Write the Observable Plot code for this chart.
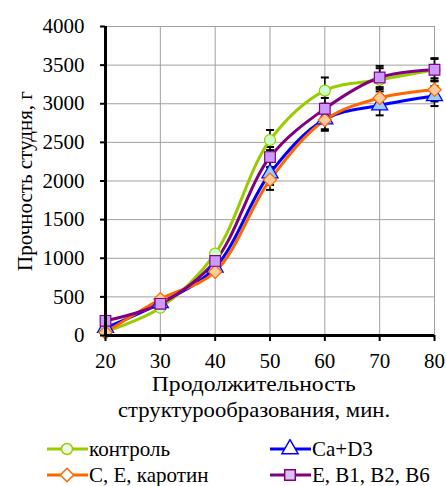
<!DOCTYPE html>
<html><head><meta charset="utf-8">
<script src="https://cdn.jsdelivr.net/npm/d3@7"></script>
<script src="https://cdn.jsdelivr.net/npm/@observablehq/plot@0.6"></script>
<style>
body{margin:0;background:#fff;font-family:"Liberation Serif",serif;}
#wrap{position:relative;width:446px;height:486px;overflow:hidden;}
#wrap > svg{position:absolute;left:0;top:0;}
.xl{position:absolute;left:0;width:508px;text-align:center;font-size:21px;line-height:19px;color:#000;white-space:nowrap;}
.xl span{display:inline-block;transform-origin:center;}
.lg{position:absolute;font-size:21px;line-height:20px;display:flex;align-items:center;color:#000;white-space:nowrap;}
.lg svg{margin-right:1px;}
</style>
</head><body>
<div id="wrap"></div>
<script>
const minutes = [20, 30, 40, 50, 60, 70, 80];
const seriesNames = ["контроль", "Ca+D3", "С, Е, каротин", "Е, В1, В2, В6"];
const control   = [50, 360, 1060, 2530, 3170, 3310, 3440];
const caD3      = [100, 420, 880, 2100, 2800, 2980, 3100];
const carotene  = [40, 470, 825, 2015, 2790, 3075, 3180];
const vitB      = [190, 410, 965, 2310, 2935, 3340, 3440];
const errControl  = [40, 40, 60, 130, 170, 150, 150];
const errCaD3     = [40, 40, 60, 150, 130, 130, 130];
const errCarotene = [40, 40, 60, 130, 140, 140, 150];
const errVitB     = [40, 40, 60, 130, 140, 150, 140];
const yTicks = [0, 500, 1000, 1500, 2000, 2500, 3000, 3500, 4000];

const FONT = '"Liberation Serif", serif';
const styles = [
  {stroke: "#99cc00", fill: "#ccffcc", symbol: "circle", r: 5.5},
  {stroke: "#0000ff", fill: "#99ccff", symbol: "triangle", r: 6},
  {stroke: "#ff6600", fill: "#ffcc99", symbol: "diamond2", r: 6},
  {stroke: "#800080", fill: "#cc99ff", symbol: "square", r: 6}
];
const values = [control, caD3, carotene, vitB];
const errs = [errControl, errCaD3, errCarotene, errVitB];

const tables = values.map((vals, s) => minutes.map((m, i) => ({x: m, y: vals[i], lo: vals[i] - errs[s][i], hi: vals[i] + errs[s][i], s})));
const all = tables.flat();
const withErr = all.filter(d => d.x >= 50);

const capSymbol = {draw(ctx, size) { const r = Math.sqrt(size / Math.PI); ctx.moveTo(-r, 0); ctx.lineTo(r, 0); }};

const marks = [
  Plot.gridX(minutes, {stroke: "#a0a0a0", strokeOpacity: 1, strokeWidth: 1}),
  Plot.gridY(yTicks, {stroke: "#a0a0a0", strokeOpacity: 1, strokeWidth: 1}),
  Plot.ruleX(withErr, {x: "x", y1: "lo", y2: "hi", stroke: "#000", strokeWidth: 1.5}),
  Plot.dot(withErr, {x: "x", y: "lo", symbol: capSymbol, r: 4, stroke: "#000", strokeWidth: 2, fill: "none"}),
  Plot.dot(withErr, {x: "x", y: "hi", symbol: capSymbol, r: 4, stroke: "#000", strokeWidth: 2, fill: "none"}),
];
tables.forEach((t, s) => {
  marks.push(Plot.line(t, {x: "x", y: "y", curve: "catmull-rom", stroke: styles[s].stroke, strokeWidth: 3}));
});
tables.forEach((t, s) => {
  marks.push(Plot.dot(t, {x: "x", y: "y", symbol: styles[s].symbol, r: styles[s].r, stroke: styles[s].stroke, fill: styles[s].fill, strokeWidth: 1.2}));
});
marks.push(
  Plot.ruleX([20], {stroke: "#000", strokeWidth: 3}),
  Plot.ruleY([0], {stroke: "#000", strokeWidth: 3}),
  Plot.axisY(yTicks, {tickSize: 5, tickPadding: 16, strokeWidth: 2, fontSize: 21, tickFormat: d3.format("d"), label: "Прочность студня, г", labelAnchor: "center", labelArrow: "none", labelOffset: 88}),
  Plot.axisX(minutes, {tickSize: 6, tickPadding: 12, strokeWidth: 2, fontSize: 21, tickFormat: d3.format("d"), label: null})
);

const chart = Plot.plot({
  width: 446, height: 374,
  marginLeft: 105, marginRight: 12, marginTop: 26, marginBottom: 39,
  style: {fontFamily: FONT, fontSize: "21px", color: "#000", background: "transparent"},
  x: {domain: [20, 80]},
  y: {domain: [0, 4000]},
  marks
});
const wrap = document.getElementById("wrap");
wrap.appendChild(chart);

function addTitle(text, top, targetWidth) {
  const d = document.createElement("div"); d.className = "xl"; d.style.top = top + "px";
  const sp = document.createElement("span"); sp.textContent = text; d.appendChild(sp); wrap.appendChild(d);
  const w = sp.getBoundingClientRect().width;
  sp.style.transform = `scaleX(${targetWidth / w})`;
}
addTitle("Продолжительность", 375, 204);
addTitle("структурообразования, мин.", 401, 272);

const symbolMap = {circle: d3.symbolCircle, triangle: d3.symbolTriangle, diamond2: d3.symbolDiamond2, square: d3.symbolSquare};
const legendPos = [[47, 439], [270, 439], [47, 465], [270, 465]];
const legendFill = ["#eefbe8", "#ffffff", "#ffffff", "#d8c4f0"];
seriesNames.forEach((name, s) => {
  const div = document.createElement("div");
  div.className = "lg";
  div.style.left = legendPos[s][0] + "px";
  div.style.top = legendPos[s][1] + "px";
  const st = styles[s];
  const sym = d3.symbol(symbolMap[st.symbol], Math.PI * st.r * st.r)();
  div.innerHTML = `<svg width="41" height="20"><line x1="0" x2="41" y1="10" y2="10" stroke="${st.stroke}" stroke-width="3"/><path d="${sym}" transform="translate(20,10)" fill="${legendFill[s]}" stroke="${st.stroke}" stroke-width="1.5"/></svg><span>${name}</span>`;
  wrap.appendChild(div);
});
</script>
</body></html>
